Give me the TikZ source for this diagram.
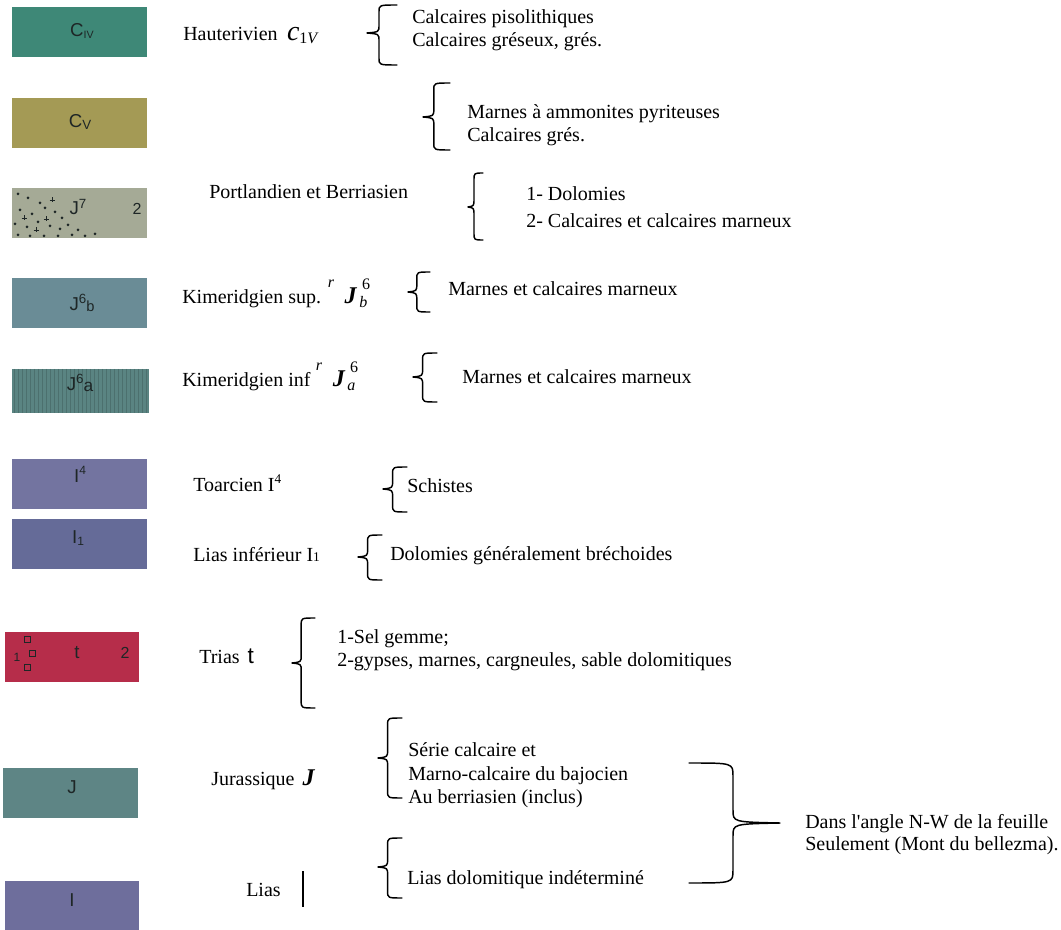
\documentclass[tikz,border=0pt]{standalone}
\usepackage{fontspec}
\setmainfont{Liberation Serif}[Ligatures=TeXOff]
\newfontfamily\swf{Liberation Sans}
\definecolor{cIV}{HTML}{3E8877}
\definecolor{cV}{HTML}{A49A55}
\definecolor{cJseven}{HTML}{A5AA96}
\definecolor{cJsixb}{HTML}{6A8C96}
\definecolor{cJsixa}{HTML}{5A8482}
\definecolor{cIfour}{HTML}{7374A0}
\definecolor{cIone}{HTML}{656B98}
\definecolor{ctrias}{HTML}{B62D4A}
\definecolor{cJ}{HTML}{5E8585}
\definecolor{cI}{HTML}{6E6E9C}
\definecolor{swtext}{HTML}{1E2626}
\tikzset{
  txt/.style={anchor=mid west, inner sep=0pt, font=\fontsize{15}{17}\selectfont},
  swlbl/.style={inner sep=0pt, font=\swf\fontsize{14}{14}\selectfont, text=swtext},
  brc/.style={line width=1.1pt, line cap=round, line join=round},
}
\newcommand\mybr[5]{%
  \pgfmathsetmacro\bmx{#1+0.4*(#2-#1)}%
  \draw[brc] (#2,#3) .. controls (\bmx,#3) .. (\bmx,#3+7) -- (\bmx,#5-8)
    .. controls (\bmx,#5-1) .. (#1,#5)
    .. controls (\bmx,#5+1) .. (\bmx,#5+8) -- (\bmx,#4-7)
    .. controls (\bmx,#4) .. (#2,#4);}
\newcommand\sm[2]{{\fontsize{#1}{#1}\selectfont #2}}
\begin{document}
\begin{tikzpicture}[x=0.75pt,y=-0.75pt]
\useasboundingbox (0,0) rectangle (1061,930);
% swatches
\fill[cIV] (12,7) rectangle (147,57);
\fill[cV] (12,98) rectangle (147,148);
\fill[cJseven] (12,188) rectangle (147,238);
\fill[cJsixb] (12,278) rectangle (147,328);
\fill[cJsixa] (12,369) rectangle (149,413);
\foreach \i in {14,18,...,146} \draw[cJsixa!85!black, line width=0.7pt] (\i,369) -- (\i,413);
\fill[cIfour] (12,459) rectangle (147,509);
\fill[cIone] (12,519) rectangle (147,569);
\fill[ctrias] (5,632) rectangle (139,682);
\fill[cJ] (3,768) rectangle (138,818);
\fill[cI] (5,881) rectangle (139,930);
% J7 dots
\foreach \p in {(18,194),(28,198),(40,203),(20,210),(32,214),(45,208),(55,212),(15,224),(27,227),(38,222),(50,226),(62,218),(60,229),(18,235),(30,236),(44,236),(58,236),(72,235),(85,236),(95,234),(68,225),(78,230)}
  \fill[swtext] \p circle (1.5);
\foreach \p in {(24,218),(46,219),(36,230),(52,200)}
  \draw[swtext, line width=0.6pt] \p ++(-2.5,0) -- ++(5,0) \p ++(0,-2.5) -- ++(0,5);
% trias marks
\draw[swtext, line width=0.7pt] (24,636) rectangle (30,642) (29,650) rectangle (35,656) (24,664) rectangle (30,670);
% swatch labels
\node[swlbl] (sIV) at (82,31) {C\raisebox{-1pt}{\sm{8}{IV}}};
\node[swlbl] (sV) at (80,122) {C\raisebox{-1pt}{\sm{10}{V}}};
\node[swlbl] (sJ7) at (78,207) {J\raisebox{5pt}{\sm{10}{7}}};
\node[swlbl] (sJ7b) at (137,209) {\sm{12}{2}};
\node[swlbl] (sJ6b) at (82,303) {J\raisebox{5pt}{\sm{10}{6}}\raisebox{-1pt}{\sm{11}{b}}};
\node[swlbl] (sJ6a) at (80,383) {J\raisebox{5pt}{\sm{10}{6}}\raisebox{-1pt}{\sm{13}{a}}};
\node[swlbl] (sI4) at (80,474) {I\raisebox{6pt}{\sm{9}{4}}};
\node[swlbl] (sI1) at (78,538) {I\raisebox{-1pt}{\sm{9}{1}}};
\node[swlbl] (st) at (77,653) {t};
\node[swlbl] (st2) at (125,653) {\sm{12}{2}};
\node[swlbl] (st1) at (17,657) {\sm{9}{1}};
\node[swlbl] (sJ) at (72,787) {J};
\node[swlbl] (sI) at (72,900) {I};
% labels
\node[txt] (hau) at (183,37) {Hauterivien\hspace{7pt}\sm{21}{\itshape c}\raisebox{-2.5pt}{\sm{12}{1\itshape V}}};
\node[txt] (d1a) at (412,20) {Calcaires pisolithiques};
\node[txt] (d1b) at (412,43) {Calcaires gréseux, grés.};
\node[txt] (d2a) at (467,115) {Marnes à ammonites pyriteuses};
\node[txt] (d2b) at (467,138) {Calcaires grés.};
\node[txt] (port) at (209,195) {Portlandien et Berriasien};
\node[txt] (d3a) at (526,197) {1- Dolomies};
\node[txt] (d3b) at (526,224) {2- Calcaires et calcaires marneux};
\node[txt] (kim1) at (182,300) {Kimeridgien sup.\hspace{5pt}\raisebox{11.5pt}{\sm{12}{\itshape r}}\hspace{8pt}\sm{18}{\bfseries\itshape J}\hspace{2pt}\rlap{\raisebox{-3pt}{\sm{12}{\itshape b}}}\hspace{2pt}\raisebox{10pt}{\sm{12}{6}}};
\node[txt] (d4) at (448,292) {Marnes et calcaires marneux};
\node[txt] (kim2) at (182,383) {Kimeridgien inf\hspace{4pt}\raisebox{11.5pt}{\sm{12}{\itshape r}}\hspace{8pt}\sm{18}{\bfseries\itshape J}\hspace{2pt}\rlap{\raisebox{-3pt}{\sm{12}{\itshape a}}}\hspace{2pt}\raisebox{10pt}{\sm{12}{6}}};
\node[txt] (d5) at (462,380) {Marnes et calcaires marneux};
\node[txt] (toa) at (193,488) {Toarcien I\raisebox{6pt}{\sm{10}{4}}};
\node[txt] (d6) at (407,489) {Schistes};
\node[txt] (lia1) at (193,558) {Lias inférieur I\raisebox{-0.5pt}{\sm{10}{1}}};
\node[txt] (d7) at (390,557) {Dolomies généralement bréchoides};
\node[txt] (tri) at (199,660) {Trias\hspace{6pt}{\swf\fontsize{17}{17}\selectfont t}};
\node[txt] (d8a) at (337,640) {1-Sel gemme;};
\node[txt] (d8b) at (337,663) {2-gypses, marnes, cargneules, sable dolomitiques};
\node[txt] (jur) at (211,782) {Jurassique\hspace{6pt}\sm{18}{\bfseries\itshape J}};
\node[txt] (d9a) at (408,753) {Série calcaire et};
\node[txt] (d9b) at (408,777) {Marno-calcaire du bajocien};
\node[txt] (d9c) at (408,800) {Au berriasien (inclus)};
\node[txt] (lia2) at (246,893) {Lias};
\coordinate (bart) at (303,871);
\coordinate (barb) at (303,907);
\draw[line width=0.8pt] (bart) -- (barb);
\node[txt] (d10) at (407,881) {Lias dolomitique indéterminé};
\node[txt] (n1) at (805,825) {Dans l'angle N-W de la feuille};
\node[txt] (n2) at (805,847) {Seulement (Mont du bellezma).};
% braces
\mybr{367}{397}{5}{65}{33}
\mybr{423}{450}{83}{150}{117}
\mybr{468}{483}{173}{240}{207}
\mybr{408}{430}{272}{312}{292}
\mybr{413}{437}{353}{402}{377}
\mybr{383}{407}{467}{512}{489}
\mybr{358}{382}{535}{580}{557}
\mybr{292}{315}{618}{708}{663}
\mybr{378}{402}{718}{798}{758}
\mybr{378}{402}{838}{898}{867}
% big right brace
\draw[brc] (689,763) .. controls (733,763) .. (733,776) -- (733,810)
  .. controls (733,822) .. (780,823) .. controls (733,824) .. (733,836)
  -- (733,870) .. controls (733,883) .. (689,883);
\end{tikzpicture}
\end{document}
